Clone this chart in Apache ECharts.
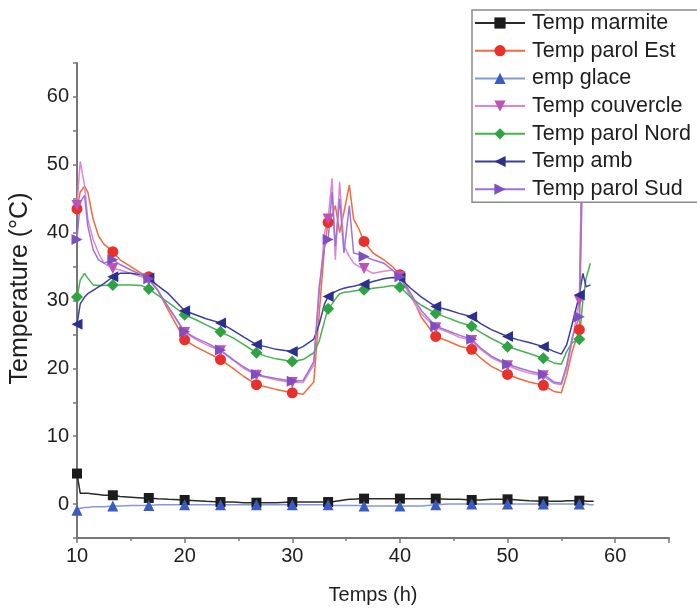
<!DOCTYPE html>
<html>
<head>
<meta charset="utf-8">
<script src="https://cdn.jsdelivr.net/npm/echarts@6/dist/echarts.min.js"></script>
<style>html,body{margin:0;padding:0;background:#fff}#c{width:697px;height:612px}</style>
</head>
<body>
<div id="c"></div>
<script>
// Time (h)
var times = [10, 10.3, 10.7, 11, 11.5, 12, 12.5, 13.33, 14, 15, 16, 16.67, 17.5, 18.5, 20, 21, 22, 23.33, 24.5, 25.5,
  26.67, 27.5, 28.5, 30, 31, 32, 32.5, 33, 33.33, 33.7, 34, 34.4, 34.8, 35.3, 35.7, 36.2, 36.67, 37.5, 38.5, 39.3,
  40, 41, 42, 43.33, 44.5, 45.5, 46.67, 47.5, 48.5, 50, 51, 52, 53.33, 54.3, 55, 55.5, 56, 56.67, 57, 57.3, 57.7, 58];

var tempMarmite = [4.5, 1.6, 1.6, 1.6, 1.5, 1.4, 1.3, 1.3, 1.1, 1.0, 0.9, 0.9, 0.8, 0.7, 0.6, 0.5, 0.4, 0.3, 0.3, 0.2,
  0.2, 0.2, 0.2, 0.3, 0.3, 0.3, 0.3, 0.3, 0.3, 0.3, 0.4, 0.5, 0.6, 0.7, 0.7, 0.8, 0.8, 0.8, 0.8, 0.8,
  0.8, 0.8, 0.8, 0.8, 0.7, 0.7, 0.6, 0.6, 0.7, 0.7, 0.6, 0.5, 0.4, 0.4, 0.4, 0.5, 0.5, 0.5, 0.5, 0.4, 0.4, 0.4];

var tempParolEst = [43.5, 46, 46.8, 46, 42, 39.5, 38.3, 37.2, 36, 35, 34, 33.5, 31.5, 28.5, 24.2, 23.2, 22.4, 21.3, 20, 18.8,
  17.6, 17.3, 16.9, 16.4, 16.2, 18, 28, 38, 41.5, 42.5, 44, 40, 43, 47, 42, 40.5, 38.7, 37, 36, 35,
  33.8, 31, 27.5, 24.7, 24, 23.3, 22.8, 21.5, 20.3, 19.1, 18.5, 18, 17.5, 16.6, 16.4, 19, 22.5, 25.7, 52, null, null, null];

var tempGlace = [-0.9, -0.6, -0.5, -0.5, -0.4, -0.4, -0.4, -0.3, -0.3, -0.2, -0.2, -0.2, -0.1, -0.1, -0.1, -0.1, -0.1, -0.1, -0.1, -0.1,
  -0.1, -0.1, -0.1, -0.1, -0.1, -0.1, -0.1, -0.1, -0.1, -0.2, -0.2, -0.2, -0.2, -0.2, -0.2, -0.2, -0.3, -0.3, -0.3, -0.3,
  -0.3, -0.3, -0.3, -0.1, 0, 0, 0, 0, 0, 0, 0, 0, 0, 0, 0, 0, 0, 0, 0, 0, -0.1, -0.1];

var tempCouvercle = [44, 50.5, 47, 42, 39, 37, 35.5, 34.7, 34.5, 34, 33.5, 33, 31.5, 29, 25.3, 24.3, 23.5, 22.6, 21.2, 20,
  19, 18.7, 18.3, 17.9, 17.9, 20.5, 31, 40, 42, 48, 36, 47.5, 38, 36.5, 35.5, 35, 34.7, 34, 34.3, 34.5,
  33.5, 30.5, 28, 26, 25.3, 24.6, 24.1, 22.8, 21.6, 20.4, 19.8, 19.3, 18.9, 17.8, 17.6, 20, 24, 30, 62, null, null, null];

var tempParolNord = [30.5, 33, 34, 33.3, 32.3, 32.2, 32.2, 32.3, 32.3, 32.3, 32.2, 31.7, 30.8, 29.7, 27.9, 27.2, 26.4, 25.4, 24.5, 23.5,
  22.3, 21.8, 21.4, 21, 21.3, 22.3, 24, 27, 28.8, 29.5, 30.2, 31, 31.2, 31.3, 31.4, 31.5, 31.6, 31.8, 32, 32.2,
  32, 30.5, 29.3, 28.1, 27.4, 26.8, 26.2, 25.3, 24.4, 23.2, 22.7, 22.2, 21.5, 20.8, 20.6, 22.5, 23.8, 24.3, 30, 33.3, 35.5, null];

var tempAmb = [26.5, 29.5, 30.5, 31, 31.5, 32, 32.5, 33.5, 34, 34, 33.8, 33.3, 32.2, 31, 28.5, 27.9, 27.3, 26.7, 25.6, 24.6,
  23.5, 23.2, 22.8, 22.5, 23.2, 24.3, 26.5, 29.5, 30.6, 31, 31.3, 31.6, 31.8, 32, 32.1, 32.3, 32.4, 32.8, 33.2, 33.4,
  33.3, 31.8, 30.5, 29.1, 28.6, 28.1, 27.6, 26.6, 25.7, 24.7, 24.2, 23.8, 23.2, 22.5, 22.1, 23.5, 26.5, 30.8, 34, 32, 32.3, null];

var tempParolSud = [39, 44.5, 45.5, 41, 37.5, 36, 35.5, 36, 35.3, 34.5, 33.8, 33.2, 31.5, 29, 25.4, 24.5, 23.8, 22.7, 21.3, 20.2,
  19.1, 18.8, 18.5, 18.1, 18.2, 21, 32, 38, 39, 46, 38, 45, 37, 44, 37, 36.8, 36.5, 36, 35.5, 34.5,
  33.5, 31, 28.5, 26.2, 25.5, 24.9, 24.3, 23, 21.8, 20.6, 20.1, 19.6, 19.1, 18, 17.8, 20.5, 24.5, 27.6, 58, null, null, null];

var seriesNames = ['Temp marmite', 'Temp parol Est', 'emp glace', 'Temp couvercle', 'Temp parol Nord', 'Temp amb', 'Temp parol Sud'];
var xLabels = [10, 20, 30, 40, 50, 60];
var yLabels = [0, 10, 20, 30, 40, 50, 60];

function isMarker(t) {
  var k = (t - 10) * 0.3;
  return Math.abs(k - Math.round(k)) < 0.01;
}
function build(vals, size) {
  return times.map(function (t, i) {
    var v = vals[i];
    if (v === null) return { value: [t, '-'] };
    return { value: [t, v], symbolSize: isMarker(t) ? size : 0 };
  });
}

var styles = [
  { data: tempMarmite, symbol: 'rect', rot: 0, line: '#2a2a2a', mark: '#1c1c1c', size: 10 },
  { data: tempParolEst, symbol: 'circle', rot: 0, line: '#f36a3c', mark: '#e8312a', size: 11 },
  { data: tempGlace, symbol: 'triangle', rot: 0, line: '#8597e0', mark: '#3a5cc2', size: 11 },
  { data: tempCouvercle, symbol: 'triangle', rot: 180, line: '#df85d2', mark: '#bf52b6', size: 11 },
  { data: tempParolNord, symbol: 'diamond', rot: 0, line: '#45b24f', mark: '#2fa343', size: 12 },
  { data: tempAmb, symbol: 'triangle', rot: 90, line: '#3b3f9c', mark: '#2c2f8e', size: 11 },
  { data: tempParolSud, symbol: 'triangle', rot: -90, line: '#9c74d8', mark: '#7e4fc0', size: 11 }
];

var series = styles.map(function (s, idx) {
  return {
    name: seriesNames[idx],
    type: 'line',
    data: build(s.data, s.size),
    symbol: s.symbol,
    symbolRotate: s.rot,
    symbolSize: s.size,
    showAllSymbol: true,
    connectNulls: false,
    lineStyle: { color: s.line, width: 1.5 },
    itemStyle: { color: s.mark },
    emphasis: { disabled: true },
    animation: false
  };
});

var textColor = '#1e1e1e';
var fontFam = '"Liberation Sans", Arial, sans-serif';

var chart = echarts.init(document.getElementById('c'), null, { renderer: 'canvas' });
chart.setOption({
  animation: false,
  backgroundColor: '#ffffff',
  grid: { left: 77, right: 28, top: 63, bottom: 74, containLabel: false, outerBoundsMode: 'none' },
  legend: {
    orient: 'vertical',
    left: 472,
    top: 10,
    padding: [2, 40, 2, 2],
    itemWidth: 50,
    itemHeight: 14,
    itemGap: 5.7,
    borderColor: '#8a8a8a',
    borderWidth: 1.5,
    backgroundColor: '#ffffff',
    data: seriesNames,
    textStyle: { fontSize: 21.5, lineHeight: 22, color: textColor, fontFamily: fontFam, padding: [0, 0, 0, 2] }
  },
  xAxis: {
    type: 'value',
    min: 10, max: 65, interval: 10,
    name: 'Temps (h)',
    nameLocation: 'middle',
    nameGap: 47,
    nameTextStyle: { fontSize: 20, color: textColor, fontFamily: fontFam },
    axisLine: { onZero: false, lineStyle: { color: '#777', width: 2 } },
    axisTick: { length: 5, lineStyle: { color: '#777', width: 1.5 } },
    minorTick: { show: true, splitNumber: 2, length: 3, lineStyle: { color: '#777', width: 1.5 } },
    splitLine: { show: false },
    axisLabel: { fontSize: 20, color: textColor, fontFamily: fontFam, margin: 8, formatter: function (v) { return xLabels.indexOf(v) >= 0 ? String(v) : ''; } }
  },
  yAxis: {
    type: 'value',
    min: -5, max: 65, interval: 5,
    name: 'Temperature (°C)',
    nameLocation: 'middle',
    nameGap: 44,
    nameTextStyle: { fontSize: 25, color: textColor, fontFamily: fontFam, padding: [0, 0, 0, 24] },
    axisLine: { onZero: false, lineStyle: { color: '#777', width: 2 } },
    axisTick: { length: 4, lineStyle: { color: '#777', width: 1.5 } },
    splitLine: { show: false },
    axisLabel: { fontSize: 20, color: textColor, fontFamily: fontFam, margin: 8, formatter: function (v) { return yLabels.indexOf(v) >= 0 ? String(v) : ''; } }
  },
  series: series
});
</script>
</body>
</html>
